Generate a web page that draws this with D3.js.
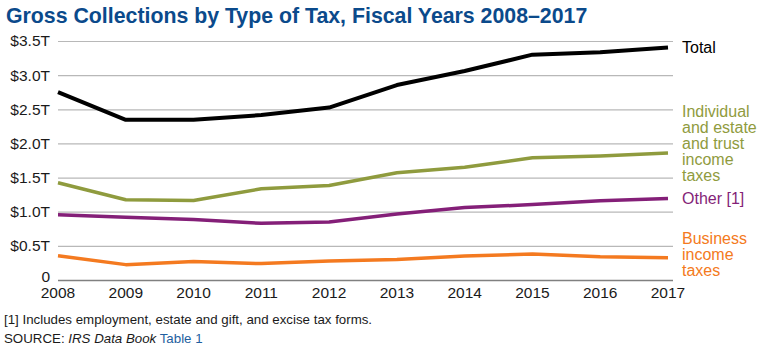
<!DOCTYPE html>
<html>
<head>
<meta charset="utf-8">
<script src="https://cdn.jsdelivr.net/npm/d3@7"></script>
<style>
  body { margin: 0; background: #fff; }
  text { font-family: "Liberation Sans", Arial, sans-serif; }
</style>
</head>
<body>
<div id="chart"></div>
<script>
// data (trillions of dollars)
var years = [2008, 2009, 2010, 2011, 2012, 2013, 2014, 2015, 2016, 2017];
var total = [2.75, 2.345, 2.345, 2.415, 2.525, 2.855, 3.06, 3.30, 3.335, 3.405];
var individual = [1.425, 1.175, 1.165, 1.335, 1.385, 1.57, 1.65, 1.79, 1.815, 1.86];
var other = [0.955, 0.92, 0.885, 0.83, 0.85, 0.965, 1.06, 1.105, 1.16, 1.195];
var business = [0.355, 0.225, 0.27, 0.24, 0.28, 0.30, 0.35, 0.38, 0.34, 0.325];
var yTicks = [0, 0.5, 1.0, 1.5, 2.0, 2.5, 3.0, 3.5];
var yTickLabels = ["0", "$0.5T", "$1.0T", "$1.5T", "$2.0T", "$2.5T", "$3.0T", "$3.5T"];

var series = [
  {name: "Total", values: total, color: "#000000", label: ["Total"], ly: 47},
  {name: "Individual", values: individual, color: "#8f9b3e", label: ["Individual", "and estate", "and trust", "income", "taxes"], ly: 111},
  {name: "Other", values: other, color: "#841f78", label: ["Other [1]"], ly: 198},
  {name: "Business", values: business, color: "#f47a20", label: ["Business", "income", "taxes"], ly: 238}
];

var W = 773, H = 347;
var svg = d3.select("#chart").append("svg")
  .attr("width", W).attr("height", H);

var x = d3.scaleLinear().domain([2008, 2017]).range([58, 668]);
var y = d3.scaleLinear().domain([0, 3.5]).range([280, 41]);

// title
svg.append("text")
  .attr("x", 6).attr("y", 23)
  .attr("font-size", 21.3).attr("font-weight", "bold")
  .attr("fill", "#0b4a8b")
  .text("Gross Collections by Type of Tax, Fiscal Years 2008\u20132017");

// gridlines
svg.append("g").selectAll("line")
  .data(yTicks)
  .enter().append("line")
    .attr("x1", 58).attr("x2", 673)
    .attr("y1", function(d) { return y(d) + 0.5; })
    .attr("y2", function(d) { return y(d) + 0.5; })
    .attr("stroke", function(d) { return d === 0 ? "#808080" : "#b8b8b8"; })
    .attr("stroke-width", function(d) { return d === 0 ? 1.5 : 1.2; });

// y labels
svg.append("g").selectAll("text")
  .data(yTicks)
  .enter().append("text")
    .attr("x", 50)
    .attr("y", function(d) { return d === 0 ? y(d) - 3 : y(d); })
    .attr("dy", "0.35em")
    .attr("text-anchor", "end")
    .attr("font-size", 15.5)
    .attr("fill", "#1a1a1a")
    .text(function(d, i) { return yTickLabels[i]; });

// x labels
svg.append("g").selectAll("text")
  .data(years)
  .enter().append("text")
    .attr("x", function(d) { return x(d); })
    .attr("y", 293)
    .attr("dy", "0.35em")
    .attr("text-anchor", "middle")
    .attr("font-size", 15.5)
    .attr("fill", "#1a1a1a")
    .text(function(d) { return d; });

// lines
var line = d3.line()
  .x(function(d, i) { return x(years[i]); })
  .y(function(d) { return y(d); });

svg.append("g").selectAll("path")
  .data(series)
  .enter().append("path")
    .attr("d", function(d) { return line(d.values); })
    .attr("fill", "none")
    .attr("stroke", function(d) { return d.color; })
    .attr("stroke-width", function(d) { return d.name === "Total" ? 4 : 3.5; })
    .attr("stroke-linejoin", "round");

// series labels
series.forEach(function(s) {
  var t = svg.append("text")
    .attr("x", 682).attr("y", s.ly)
    .attr("font-size", 16)
    .attr("fill", s.color);
  s.label.forEach(function(l, i) {
    t.append("tspan").attr("x", 682).attr("dy", i === 0 ? "0.35em" : 16).text(l);
  });
});

// footnotes
svg.append("text")
  .attr("x", 4).attr("y", 324)
  .attr("font-size", 13.3).attr("fill", "#1a1a1a")
  .text("[1] Includes employment, estate and gift, and excise tax forms.");

var src = svg.append("text")
  .attr("x", 4).attr("y", 343)
  .attr("font-size", 13.3).attr("fill", "#1a1a1a");
src.append("tspan").text("SOURCE: ");
src.append("tspan").attr("font-style", "italic").text("IRS Data Book");
src.append("tspan").attr("fill", "#1f5fa0").text(" Table 1");
</script>
</body>
</html>
